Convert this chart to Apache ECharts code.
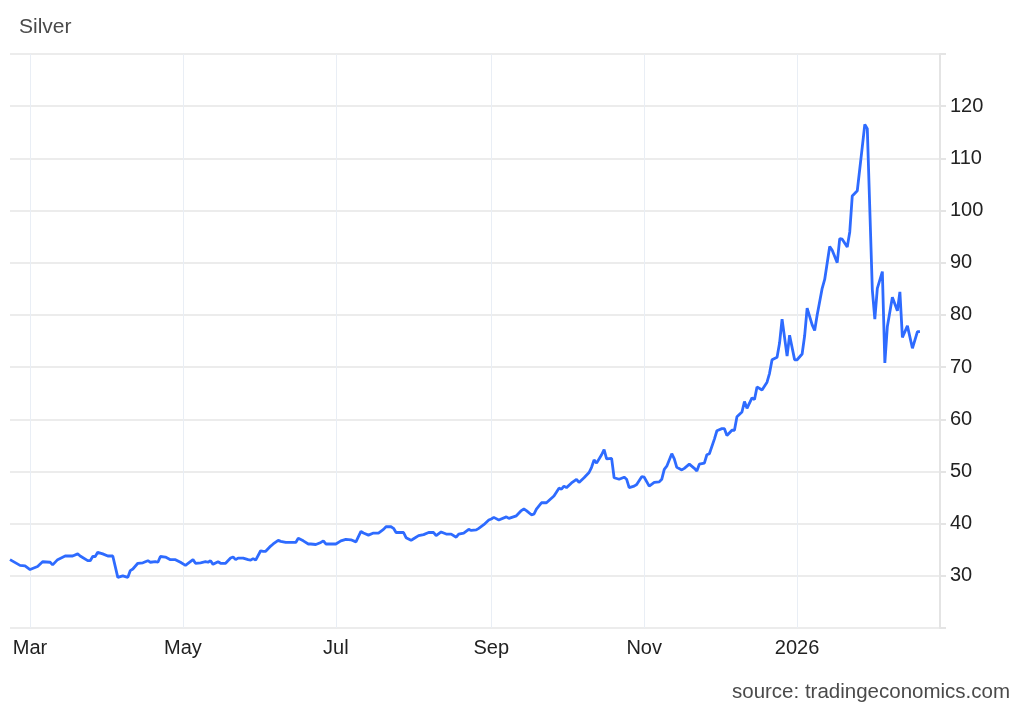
<!DOCTYPE html>
<html>
<head>
<meta charset="utf-8">
<script src="https://cdn.jsdelivr.net/npm/echarts@6/dist/echarts.min.js"></script>
<style>
  html, body { margin: 0; padding: 0; background: #fff; }
  #chart { width: 1024px; height: 710px; }
</style>
</head>
<body>
<div id="chart"></div>
<script>
// silver price
const dates = [
  '2025-02-21', '2025-02-25', '2025-02-27',
  '2025-03-01', '2025-03-04', '2025-03-06', '2025-03-09', '2025-03-10', '2025-03-12', '2025-03-15',
  '2025-03-18', '2025-03-20', '2025-03-21', '2025-03-24', '2025-03-25', '2025-03-26', '2025-03-27',
  '2025-03-28', '2025-03-30',
  '2025-04-01', '2025-04-03', '2025-04-05', '2025-04-07', '2025-04-09', '2025-04-10', '2025-04-11',
  '2025-04-13', '2025-04-15', '2025-04-17', '2025-04-18', '2025-04-20', '2025-04-21', '2025-04-22',
  '2025-04-24', '2025-04-26', '2025-04-28', '2025-04-30',
  '2025-05-02', '2025-05-05', '2025-05-06', '2025-05-08', '2025-05-10', '2025-05-11', '2025-05-12',
  '2025-05-13', '2025-05-15', '2025-05-16', '2025-05-18', '2025-05-20', '2025-05-21', '2025-05-22',
  '2025-05-23', '2025-05-25', '2025-05-27', '2025-05-28', '2025-05-29', '2025-05-30',
  '2025-06-01', '2025-06-02', '2025-06-03', '2025-06-05', '2025-06-06', '2025-06-08', '2025-06-09',
  '2025-06-11', '2025-06-13', '2025-06-15', '2025-06-16', '2025-06-18', '2025-06-20', '2025-06-21',
  '2025-06-23', '2025-06-25', '2025-06-26', '2025-06-27', '2025-06-29',
  '2025-07-01', '2025-07-03', '2025-07-05', '2025-07-07', '2025-07-09', '2025-07-11', '2025-07-12',
  '2025-07-14', '2025-07-16', '2025-07-18', '2025-07-20', '2025-07-21', '2025-07-23', '2025-07-24',
  '2025-07-25', '2025-07-28', '2025-07-29', '2025-07-31',
  '2025-08-01', '2025-08-03', '2025-08-05', '2025-08-07', '2025-08-09', '2025-08-10', '2025-08-12',
  '2025-08-14', '2025-08-16', '2025-08-18', '2025-08-19', '2025-08-21', '2025-08-23', '2025-08-24',
  '2025-08-26', '2025-08-27', '2025-08-29', '2025-08-31',
  '2025-09-01', '2025-09-02', '2025-09-04', '2025-09-07', '2025-09-08', '2025-09-11', '2025-09-13',
  '2025-09-14', '2025-09-15', '2025-09-17', '2025-09-18', '2025-09-19', '2025-09-21', '2025-09-23',
  '2025-09-26', '2025-09-28', '2025-09-29', '2025-09-30',
  '2025-10-01', '2025-10-03', '2025-10-05', '2025-10-06', '2025-10-08', '2025-10-10', '2025-10-11',
  '2025-10-12', '2025-10-13', '2025-10-15', '2025-10-16', '2025-10-17', '2025-10-19', '2025-10-20',
  '2025-10-22', '2025-10-24', '2025-10-25', '2025-10-26', '2025-10-28', '2025-10-29', '2025-10-31',
  '2025-11-01', '2025-11-03', '2025-11-05', '2025-11-07', '2025-11-08', '2025-11-09', '2025-11-10',
  '2025-11-12', '2025-11-13', '2025-11-14', '2025-11-16', '2025-11-17', '2025-11-19', '2025-11-21',
  '2025-11-22', '2025-11-23', '2025-11-25', '2025-11-26', '2025-11-27', '2025-11-29', '2025-11-30',
  '2025-12-02', '2025-12-03', '2025-12-04', '2025-12-06', '2025-12-07', '2025-12-08', '2025-12-10',
  '2025-12-11', '2025-12-12', '2025-12-14', '2025-12-15', '2025-12-16', '2025-12-18', '2025-12-20',
  '2025-12-21', '2025-12-22', '2025-12-24', '2025-12-25', '2025-12-26', '2025-12-28', '2025-12-29',
  '2025-12-31',
  '2026-01-01', '2026-01-03', '2026-01-04', '2026-01-05', '2026-01-07', '2026-01-08', '2026-01-09',
  '2026-01-11', '2026-01-12', '2026-01-14', '2026-01-15', '2026-01-17', '2026-01-18', '2026-01-19',
  '2026-01-21', '2026-01-22', '2026-01-23', '2026-01-25', '2026-01-27', '2026-01-28', '2026-01-29',
  '2026-01-31',
  '2026-02-01', '2026-02-02', '2026-02-04', '2026-02-05', '2026-02-06', '2026-02-08', '2026-02-10',
  '2026-02-11', '2026-02-12', '2026-02-14', '2026-02-16', '2026-02-18', '2026-02-19'
]

const prices = [
  33.1, 32.0, 31.9,
  31.2, 31.8, 32.7, 32.6, 32.1, 33.1, 33.8,
  33.8, 34.2, 33.8, 32.9, 32.9, 33.7, 33.7,
  34.5, 34.2,
  33.8, 33.8, 29.7, 30.0, 29.7, 31.0, 31.3,
  32.4, 32.5, 32.9, 32.6, 32.7, 32.6, 33.7,
  33.6, 33.1, 33.1, 32.6,
  32.0, 33.1, 32.4, 32.5, 32.7, 32.6, 32.9,
  32.2, 32.7, 32.4, 32.4, 33.4, 33.6, 33.1,
  33.4, 33.4, 33.1, 33.0, 33.3, 33.0,
  34.8, 34.7, 34.7, 35.7, 36.1, 36.8, 36.6,
  36.4, 36.4, 36.4, 37.2, 36.7, 36.1, 36.1,
  36.0, 36.4, 36.7, 36.1, 36.1,
  36.1, 36.7, 37.0, 36.9, 36.5, 38.5, 38.2,
  37.8, 38.2, 38.2, 38.9, 39.4, 39.4, 39.1,
  38.3, 38.3, 37.3, 36.8,
  37.1, 37.7, 37.9, 38.3, 38.3, 37.7, 38.4,
  38.0, 38.0, 37.4, 38.0, 38.2, 38.9, 38.7,
  38.8, 39.1, 39.8, 40.7,
  40.9, 41.2, 40.7, 41.3, 41.0, 41.5, 42.5,
  42.8, 42.5, 41.7, 41.8, 42.8, 44.0, 44.0,
  45.3, 46.8, 46.6, 47.2,
  46.9, 47.8, 48.5, 47.9, 48.8, 49.8, 50.8,
  52.2, 51.6, 53.2, 54.2, 52.4, 52.5, 48.8,
  48.5, 48.9, 48.5, 46.9, 47.2, 47.5, 49.0,
  48.9, 47.2, 47.9, 48.0, 48.5, 50.4, 51.0,
  53.4, 52.4, 50.8, 50.3, 50.6, 51.4, 50.6,
  50.1, 51.4, 51.6, 53.2, 53.4, 56.2, 57.8,
  58.2, 58.2, 56.9, 57.9, 57.9, 60.5, 61.4,
  63.4, 62.1, 64.1, 63.8, 66.2, 65.6, 67.1,
  68.8, 71.4, 71.9, 74.6, 79.2, 72.1, 76.1,
  71.4,
  71.4, 72.5, 76.0, 81.3, 78.1, 77.0, 80.0,
  85.1, 86.8, 93.1, 92.4, 90.0, 94.6, 94.5,
  93.0, 95.9, 102.8, 103.8, 112.2, 116.5, 115.7,
  84.8,
  79.2, 85.1, 88.3, 70.8, 77.8, 83.4, 80.8,
  84.4, 75.7, 77.9, 73.6, 76.8, 76.8
]

const monthNames = ['Jan', 'Feb', 'Mar', 'Apr', 'May', 'Jun', 'Jul', 'Aug', 'Sep', 'Oct', 'Nov', 'Dec']

const font = "'Liberation Sans', Arial, sans-serif"
const chart = echarts.init(document.getElementById('chart'))

chart.setOption({
  animation: false,
  title: [
    {
      text: 'Silver',
      left: 19,
      top: 17,
      padding: 0,
      textStyle: { fontFamily: font, fontSize: 21, fontWeight: 'normal', color: '#4a4a4a' }
    },
    {
      text: 'source: tradingeconomics.com',
      right: 14,
      top: 682,
      padding: 0,
      textStyle: { fontFamily: font, fontSize: 20.5, fontWeight: 'normal', color: '#4a4a4a' }
    }
  ],
  grid: { left: 10, right: 84, top: 54, bottom: 82 },
  xAxis: {
    type: 'time',
    min: '2025-02-21',
    max: '2026-02-27',
    splitNumber: 6,
    axisLine: { show: false },
    axisTick: { show: false },
    axisLabel: {
      showMinLabel: false,
      showMaxLabel: false,
      margin: 10,
      fontFamily: font,
      fontSize: 20,
      color: '#222',
      formatter: (val) => {
        const d = new Date(val)
        return d.getMonth() === 0 ? String(d.getFullYear()) : monthNames[d.getMonth()]
      }
    },
    splitLine: {
      show: true,
      showMinLine: false,
      showMaxLine: false,
      lineStyle: { color: '#e9eef5', width: 1 }
    }
  },
  yAxis: {
    type: 'value',
    position: 'right',
    min: 20,
    max: 130,
    interval: 10,
    axisLine: { show: true, lineStyle: { color: '#e4e4e4', width: 2 } },
    axisTick: { show: true, length: 6, lineStyle: { color: '#e4e4e4', width: 2 } },
    axisLabel: {
      margin: 10,
      fontFamily: font,
      fontSize: 20,
      color: '#222',
      formatter: (v) => (v === 20 || v === 130 ? '' : String(v))
    },
    splitLine: { lineStyle: { color: '#e6e6e6', width: 1.5 } }
  },
  series: [
    {
      name: 'Silver',
      type: 'line',
      data: dates.map((d, i) => [d, prices[i]]),
      showSymbol: false,
      lineStyle: { width: 2.8, color: '#2e6bff' }
    }
  ]
})
</script>
</body>
</html>
